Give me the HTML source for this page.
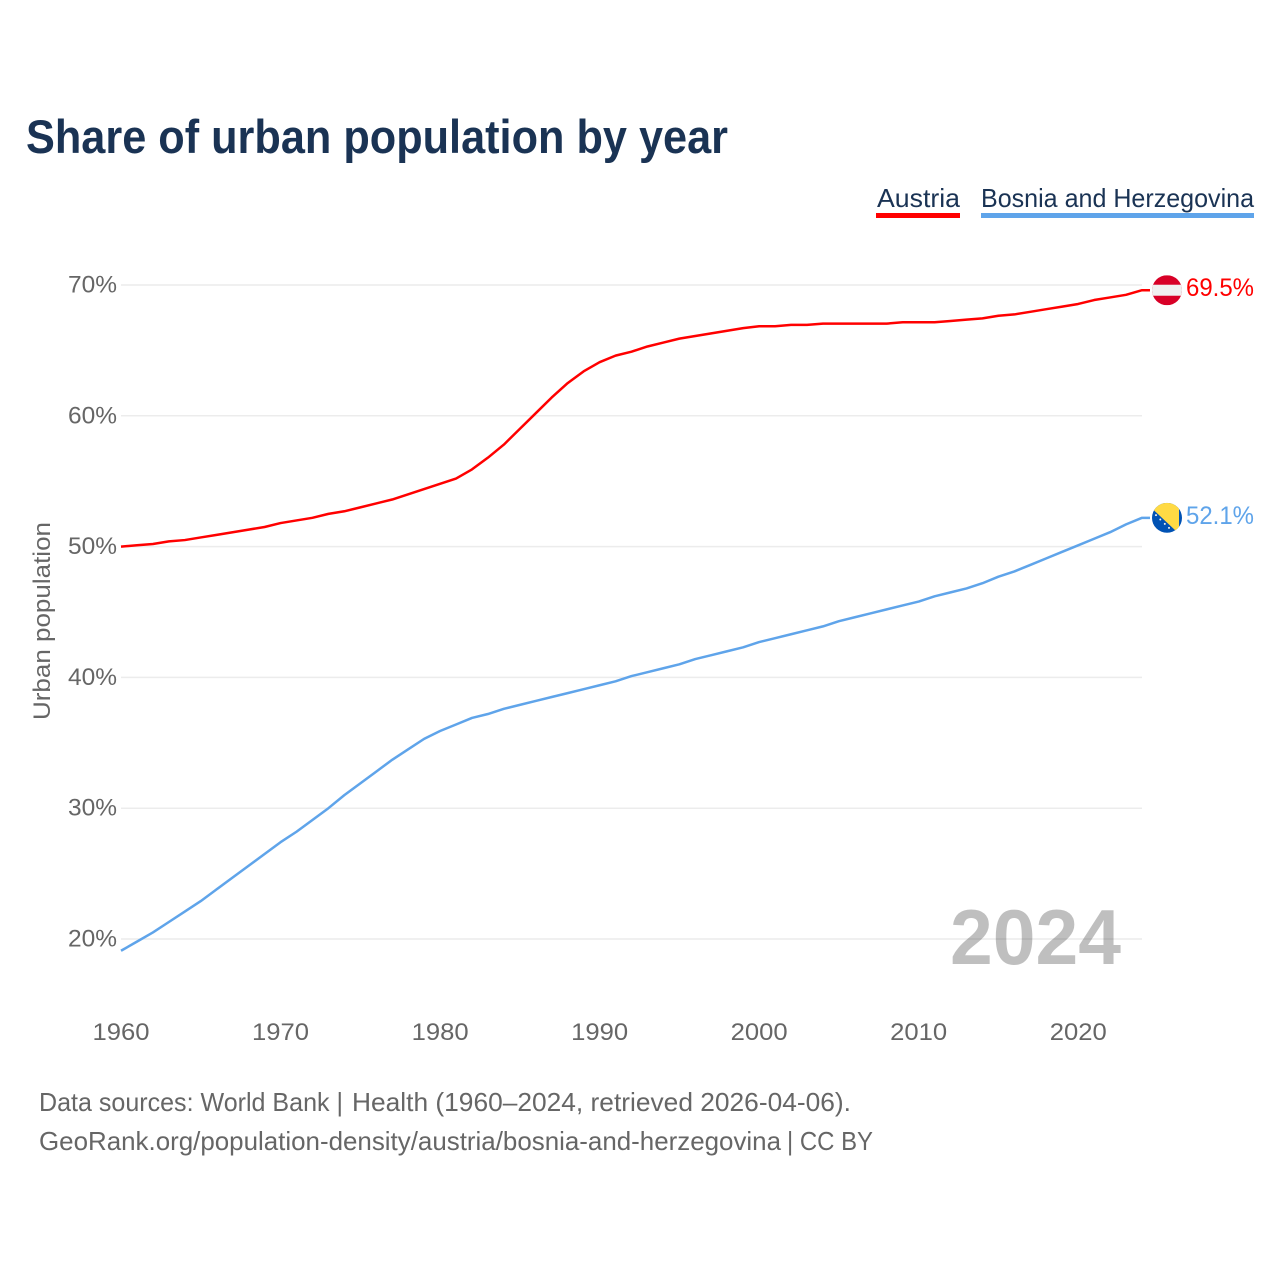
<!DOCTYPE html>
<html lang="en">
<head>
<meta charset="utf-8">
<title>Share of urban population by year</title>
<style>
html,body{margin:0;padding:0;background:#fff;width:1280px;height:1280px;overflow:hidden}
svg{display:block}
text{font-family:"Liberation Sans",sans-serif}
</style>
</head>
<body>
<svg id="chart" xmlns="http://www.w3.org/2000/svg" width="1280" height="1280" viewBox="0 0 1280 1280">
  <rect width="1280" height="1280" fill="#fff"/>
  <text x="26" y="153" font-size="47" font-weight="700" fill="#1a3354" textLength="702" lengthAdjust="spacingAndGlyphs">Share of urban population by year</text>

  <g>
    <text x="877" y="207" font-size="26" fill="#1a3354" textLength="83" lengthAdjust="spacingAndGlyphs">Austria</text>
    <rect x="876" y="213" width="84" height="5" fill="#ff0000"/>
  </g>
  <g>
    <text x="981" y="207" font-size="26" fill="#1a3354" textLength="273" lengthAdjust="spacingAndGlyphs">Bosnia and Herzegovina</text>
    <rect x="981" y="213" width="273" height="5" fill="#5fa4ea"/>
  </g>

  <text transform="translate(50,621) rotate(-90)" text-anchor="middle" font-size="24" fill="#666" textLength="198" lengthAdjust="spacingAndGlyphs">Urban population</text>

  <g id="grid"></g>
  <g id="yticks"></g>
  <g id="xticks"></g>
  <g id="series"></g>

  <text x="950" y="964" font-size="78" font-weight="700" fill="#000" fill-opacity="0.25" textLength="171" lengthAdjust="spacingAndGlyphs">2024</text>

  <defs>
    <clipPath id="flag-clip"><circle cx="0" cy="0" r="15"/></clipPath>
  </defs>
  <g id="flag-austria">
    <g clip-path="url(#flag-clip)">
      <rect x="-15" y="-15" width="30" height="30" fill="#d80027"/>
      <rect x="-15" y="-5.5" width="30" height="11" fill="#f0f0f0"/>
    </g>
  </g>
  <g id="flag-bosnia">
    <g clip-path="url(#flag-clip)">
      <rect x="-15" y="-15" width="30" height="30" fill="#0052b4"/>
      <polygon points="-21,-15 12,-15 12,16 -21,-15" fill="#ffda44"/>
      <g fill="#f0f0f0">
        <circle cx="-11" cy="-2.7" r="1"/>
        <circle cx="-6.7" cy="1.7" r="1"/>
        <circle cx="-2.2" cy="6" r="1"/>
        <circle cx="2" cy="10" r="1"/>
      </g>
    </g>
  </g>

  <text id="end-austria" x="1186" font-size="25" fill="#ff0000" textLength="68" lengthAdjust="spacingAndGlyphs"></text>
  <text id="end-bosnia" x="1186" font-size="25" fill="#5fa4ea" textLength="68" lengthAdjust="spacingAndGlyphs"></text>

  <text y="1111" font-size="26" fill="#666"><tspan x="39" textLength="304" lengthAdjust="spacingAndGlyphs">Data sources: World Bank |</tspan> <tspan x="352" textLength="499" lengthAdjust="spacingAndGlyphs">Health (1960–2024, retrieved 2026-04-06).</tspan></text>
  <text y="1150" font-size="26" fill="#666"><tspan x="39" textLength="742" lengthAdjust="spacingAndGlyphs">GeoRank.org/population-density/austria/bosnia-and-herzegovina</tspan> <tspan x="787" textLength="86" lengthAdjust="spacingAndGlyphs">| CC BY</tspan></text>
</svg>
<script>
const startYear = 1960;
const yTickValues = [20, 30, 40, 50, 60, 70];
const xTickValues = [1960, 1970, 1980, 1990, 2000, 2010, 2020];
const austriaValues = [50.0,50.1,50.2,50.4,50.5,50.7,50.9,51.1,51.3,51.5,51.8,52.0,52.2,52.5,52.7,53.0,53.3,53.6,54.0,54.4,54.8,55.2,55.9,56.8,57.8,59.0,60.2,61.4,62.5,63.4,64.1,64.6,64.9,65.3,65.6,65.9,66.1,66.3,66.5,66.7,66.85,66.85,66.95,66.95,67.05,67.05,67.05,67.05,67.05,67.15,67.15,67.15,67.25,67.35,67.45,67.65,67.75,67.95,68.15,68.35,68.55,68.85,69.05,69.25,69.6];
const bosniaValues = [19.1,19.8,20.5,21.3,22.1,22.9,23.8,24.7,25.6,26.5,27.4,28.2,29.1,30.0,31.0,31.9,32.8,33.7,34.5,35.3,35.9,36.4,36.9,37.2,37.6,37.9,38.2,38.5,38.8,39.1,39.4,39.7,40.1,40.4,40.7,41.0,41.4,41.7,42.0,42.3,42.7,43.0,43.3,43.6,43.9,44.3,44.6,44.9,45.2,45.5,45.8,46.2,46.5,46.8,47.2,47.7,48.1,48.6,49.1,49.6,50.1,50.6,51.1,51.7,52.2];
const austriaEndLabel = "69.5%";
const bosniaEndLabel = "52.1%";

const NS = "http://www.w3.org/2000/svg";
function xScale(year) { return 121 + (year - 1960) * (1142 - 121) / 64; }
function yScale(v) { return 285 + (70 - v) * (939 - 285) / 50; }
function make(tag, attrs, parent) {
  const el = document.createElementNS(NS, tag);
  for (const k in attrs) el.setAttribute(k, attrs[k]);
  parent.appendChild(el);
  return el;
}

const grid = document.getElementById("grid");
const yticks = document.getElementById("yticks");
const xticks = document.getElementById("xticks");
const series = document.getElementById("series");

yTickValues.forEach(function (v) {
  const line = make("line", {x1: 121, x2: 1142, y1: yScale(v), y2: yScale(v), stroke: "#ececec", "stroke-width": 1.5}, grid);
  
  
  const t = make("text", {x: 117, y: yScale(v) + 7.5, "text-anchor": "end", "font-size": 24, fill: "#666", textLength: 49, lengthAdjust: "spacingAndGlyphs"}, yticks);
  
  
  t.textContent = v + "%";
});

xTickValues.forEach(function (year) {
  const t = make("text", {x: xScale(year), y: 1040, "text-anchor": "middle", "font-size": 24, fill: "#666", textLength: 57, lengthAdjust: "spacingAndGlyphs"}, xticks);
  
  
  t.textContent = year;
});

function linePath(values) {
  const pts = values.map(function (v, i) { return xScale(startYear + i).toFixed(2) + "," + yScale(v).toFixed(2); });
  const lastY = yScale(values[values.length - 1]).toFixed(2);
  return "M" + pts.join("L") + "L1150," + lastY;
}

const austriaLine = make("path", {d: linePath(austriaValues), fill: "none", stroke: "#ff0000", "stroke-width": 2.5, "stroke-linejoin": "round"}, series);


const bosniaLine = make("path", {d: linePath(bosniaValues), fill: "none", stroke: "#5fa4ea", "stroke-width": 2.5, "stroke-linejoin": "round"}, series);



const aEnd = yScale(austriaValues[austriaValues.length - 1]);
const bEnd = yScale(bosniaValues[bosniaValues.length - 1]);
document.getElementById("flag-austria").setAttribute("transform", "translate(1167," + aEnd + ")");
document.getElementById("flag-bosnia").setAttribute("transform", "translate(1167," + bEnd + ")");
const aLabel = document.getElementById("end-austria");
aLabel.setAttribute("y", aEnd + 6);
aLabel.textContent = austriaEndLabel;
const bLabel = document.getElementById("end-bosnia");
bLabel.setAttribute("y", bEnd + 6);
bLabel.textContent = bosniaEndLabel;
</script>
</body>
</html>
